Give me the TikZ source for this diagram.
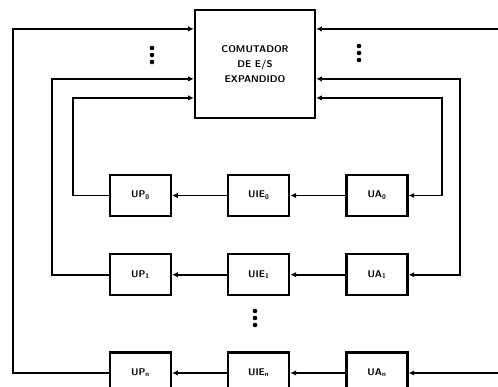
\documentclass[tikz,border=0pt]{standalone}
\usepackage{tikz}
\usetikzlibrary{arrows.meta,positioning,calc}

\begin{document}
\begin{tikzpicture}[
  x=0.3mm, y=-0.3mm,
  font=\sffamily\bfseries\fontsize{8.3}{13}\selectfont,
  node distance=16.5mm,
  unit/.style={draw,line width=1.9pt,minimum width=18.3mm,minimum height=12.3mm,inner sep=0pt},
  switchbox/.style={draw,line width=1.9pt,minimum width=36mm,minimum height=32.4mm,align=center,inner sep=0pt},
  arr/.style={-{Latex[length=1.7mm,width=1.6mm]},line width=1.7pt},
  arrboth/.style={{Latex[length=1.7mm,width=1.6mm]}-{Latex[length=1.7mm,width=1.6mm]},line width=1.7pt}
]
  \useasboundingbox (0,0) rectangle (498,386);
  \clip (0,0) rectangle (498,386);
  \node[switchbox] (box) at (255,64) {COMUTADOR\\DE E/S\\EXPANDIDO};
  % rows of units
  \node[unit] (up0) at (140.5,195.5) {UP\textsubscript{0}};
  \node[unit,right=of up0] (uie0) {UIE\textsubscript{0}};
  \node[unit,right=of uie0] (ua0) {UA\textsubscript{0}};
  \node[unit,below=10.8mm of up0] (up1) {UP\textsubscript{1}};
  \node[unit,right=of up1] (uie1) {UIE\textsubscript{1}};
  \node[unit,right=of uie1] (ua1) {UA\textsubscript{1}};
  \node[unit,below=16.5mm of up1] (upn) {UP\textsubscript{n}};
  \node[unit,right=of upn] (uien) {UIE\textsubscript{n}};
  \node[unit,right=of uien] (uan) {UA\textsubscript{n}};
  % vertical dots
  \foreach \dx/\dy in {152/48, 359/46, 255/311}
    \foreach \k in {0,1,2}
      \fill (\dx,\dy+7*\k) circle (2.3);
  % ports on the switch and rails
  \coordinate (inA) at ($(box.north west)+(0,20)$);
  \coordinate (inB) at ($(box.north west)+(0,70)$);
  \coordinate (inC) at ($(box.north west)+(0,89)$);
  \coordinate (outA) at ($(box.north east)+(0,20)$);
  \coordinate (outB) at ($(box.north east)+(0,70)$);
  \coordinate (outC) at ($(box.north east)+(0,89)$);
  \coordinate (railA) at (13,0);
  \coordinate (railB) at (52,0);
  \coordinate (railC) at (73,0);
  \coordinate (railD) at (442,0);
  \coordinate (railE) at (460,0);
  \coordinate (railF) at (510,0);
  \draw[arr] (ua0) -- (uie0);
  \draw[arr] (uie0) -- (up0);
  \draw[arr] (ua1) -- (uie1);
  \draw[arr] (uie1) -- (up1);
  \draw[arr] (uan) -- (uien);
  \draw[arr] (uien) -- (upn);
  \draw[arr] (upn.west) -| (railA |- inA) -- (inA);
  \draw[arr] (up1.west) -| (railB |- inB) -- (inB);
  \draw[arr] (up0.west) -| (railC |- inC) -- (inC);
  \draw[arrboth] (outA) -- (railF |- outA) |- (uan.east);
  \draw[arrboth] (outB) -- (railE |- outB) |- (ua1.east);
  \draw[arrboth] (outC) -- (railD |- outC) |- (ua0.east);
\end{tikzpicture}
\end{document}
